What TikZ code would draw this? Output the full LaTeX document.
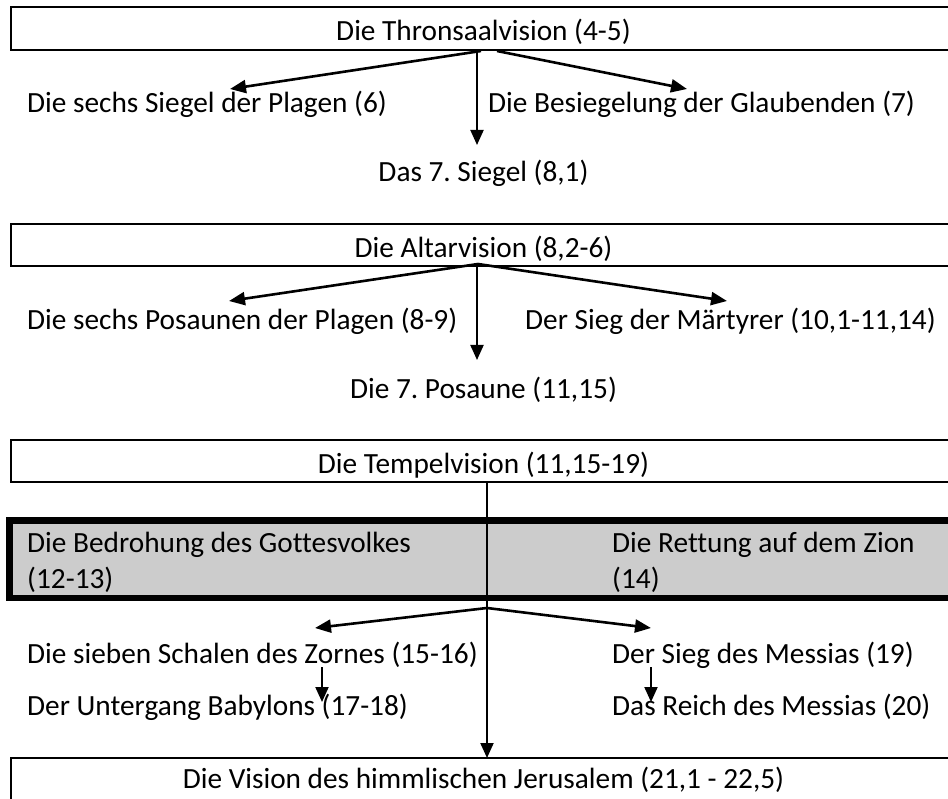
\documentclass[tikz,border=0pt]{standalone}
\usepackage{fontspec}
\setmainfont{Carlito}[Ligatures=NoCommon]
\usetikzlibrary{arrows.meta}
\definecolor{cellgray}{HTML}{CCCCCC}
\frenchspacing
\begin{document}
\begin{tikzpicture}[x=1pt,y=-1pt,
  thinbox/.style={draw, line width=2pt, fill=white, inner sep=0pt, outer sep=0pt, anchor=north west},
  graybox/.style={draw, line width=6.5pt, fill=cellgray, inner sep=0pt, outer sep=0pt, anchor=north west},
  lbl/.style={font=\fontsize{29.3}{36}\selectfont, inner sep=0pt, anchor=base},
  lblw/.style={lbl, anchor=base west},
  arr/.style={line width=2.6pt, -{Triangle[length=16pt,width=13pt]}},
  varr/.style={line width=2pt, -{Triangle[length=15pt,width=13pt]}}
]
\useasboundingbox (0,0) rectangle (948,799);
\clip (0,0) rectangle (948,799);

% ---- block 1
\node[thinbox, minimum width=960pt, minimum height=43pt] (b1) at (11,7) {};
\node[lbl] (t1) at (483.5,41) {Die Thronsaalvision (4-5)};
\node[lblw] (l1) at (27,113) {Die sechs Siegel der Plagen (6)};
\node[lblw] (r1) at (488,113) {Die Besiegelung der Glaubenden (7)};
\node[lbl] (m1) at (483.5,182) {Das 7. Siegel (8,1)};
\coordinate (a1l) at (481,51); \coordinate (a1r) at (497,51); \coordinate (a1m) at (477,51);
\coordinate (e1l) at (230,89); \coordinate (e1r) at (687,89); \coordinate (e1m) at (477,145);
\draw[arr] (a1l) -- (e1l);
\draw[arr] (a1r) -- (e1r);
\draw[varr] (a1m) -- (e1m);

% ---- block 2
\node[thinbox, minimum width=960pt, minimum height=42pt] (b2) at (11,224) {};
\node[lbl] (t2) at (483.5,258) {Die Altarvision (8,2-6)};
\node[lblw] (l2) at (27,330) {Die sechs Posaunen der Plagen (8-9)};
\node[lblw] (r2) at (525,330) {Der Sieg der Märtyrer (10,1-11,14)};
\node[lbl] (m2) at (483.5,399) {Die 7. Posaune (11,15)};
\coordinate (a2l) at (478,264); \coordinate (a2r) at (478,264); \coordinate (a2m) at (477,266);
\coordinate (e2l) at (229,301); \coordinate (e2r) at (727,301); \coordinate (e2m) at (477,360);
\draw[arr] (a2l) -- (e2l);
\draw[arr] (a2r) -- (e2r);
\draw[varr] (a2m) -- (e2m);

% ---- block 3
\node[thinbox, minimum width=960pt, minimum height=42pt] (b3) at (11,440) {};
\node[lbl] (t3) at (483.5,473) {Die Tempelvision (11,15-19)};

\node[graybox, minimum width=960pt, minimum height=77.5pt] (g) at (9.25,520.25) {};
\node[lblw] (g1) at (27,552) {Die Bedrohung des Gottesvolkes};
\node[lblw] (g2) at (27,588) {(12-13)};
\node[lblw] (g3) at (612,552) {Die Rettung auf dem Zion};
\node[lblw] (g4) at (612,588) {(14)};

% bottom box
\node[thinbox, minimum width=960pt, minimum height=60pt] (b5) at (11,758) {};
\node[lbl] (t5) at (483.5,788) {Die Vision des himmlischen Jerusalem (21,1 - 22,5)};

\coordinate (v3s) at (487,482); \coordinate (v3e) at (487,758);
\draw[varr] (v3s) -- (v3e);

\node[lblw] (l3) at (27,663) {Die sieben Schalen des Zornes (15-16)};
\node[lblw] (r3) at (612,663) {Der Sieg des Messias (19)};
\node[lblw] (l4) at (27,715) {Der Untergang Babylons (17-18)};
\node[lblw] (r4) at (612,715) {Das Reich des Messias (20)};
\coordinate (a3) at (487,608);
\coordinate (e3l) at (315,628); \coordinate (e3r) at (651,628);
\draw[arr] (a3) -- (e3l);
\draw[arr] (a3) -- (e3r);
\coordinate (s4l) at (322,667); \coordinate (f4l) at (322,702);
\coordinate (s4r) at (651,667); \coordinate (f4r) at (651,702);
\draw[varr] (s4l) -- (f4l);
\draw[varr] (s4r) -- (f4r);
\end{tikzpicture}
\end{document}
